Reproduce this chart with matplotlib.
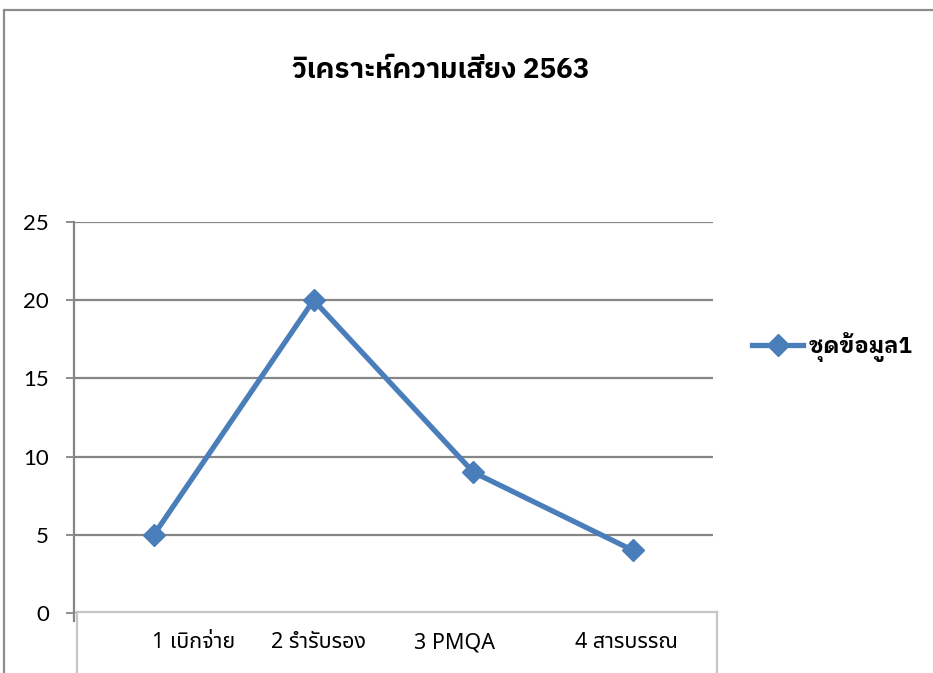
import matplotlib
matplotlib.use("Agg")
import matplotlib.pyplot as plt
from matplotlib.lines import Line2D
from matplotlib.patches import Rectangle

categories = ["1 เบิกจ่าย", "2 รำรับรอง", "3 PMQA", "4 สารบรรณ"]
values = [5, 20, 9, 4]
series_name = "ชุดข้อมูล1"
title = "วิเคราะห์ความเสี่ยง 2563"
yticks = [0, 5, 10, 15, 20, 25]
# label positions as they sit in the original (not under the points)
label_pos = [0.187, 0.383, 0.596, 0.864]

blue = "#4a7ebb"
grid_c = "#868686"
light = "#c6c6c6"

fig = plt.figure(figsize=(9.33, 6.73), dpi=100)
# outer chart frame
fig.patches.append(Rectangle((4 / 933, -0.1), 1.2, (673 - 10) / 673 + 0.1,
                             transform=fig.transFigure, fill=False,
                             edgecolor="#8c8c8c", linewidth=1.6))

ax = fig.add_axes([74 / 933, 60 / 673, 639 / 933, 391 / 673])
x = range(len(values))
ax.plot(x, values, color=blue, linewidth=3.8, marker="D", markersize=11,
        markerfacecolor=blue, markeredgecolor=blue, label=series_name)
ax.set_xlim(-0.5, len(values) - 0.5)
ax.set_ylim(0, 25)
ax.set_yticks(yticks)
ax.set_yticklabels([str(v) for v in yticks], family="Lato", fontsize=16)
ax.set_xticks([])
ax.tick_params(axis="y", length=6, width=1.3, color=grid_c, pad=12)
ax.yaxis.grid(True, color=grid_c, linewidth=1.6)
ax.set_axisbelow(True)
for s in ["top", "right", "bottom", "left"]:
    ax.spines[s].set_visible(False)

# left axis line, running a little below zero
ax.add_line(Line2D([0, 0], [-0.02, 1], transform=ax.transAxes, color=grid_c,
                   linewidth=1.6, clip_on=False))
# light box under the plot holding the category labels
box_kw = dict(transform=ax.transAxes, color=light, linewidth=1.6, clip_on=False)
ax.add_line(Line2D([0.005, 1.006], [0.002, 0.002], **box_kw))
ax.add_line(Line2D([0.005, 0.005], [0.002, -0.3], **box_kw))
ax.add_line(Line2D([1.006, 1.006], [0.002, -0.3], **box_kw))

for lab, px in zip(categories, label_pos):
    ax.text(px, -0.076, lab, transform=ax.transAxes, ha="center", va="center",
            family=["Noto Sans Thai", "DejaVu Sans"], fontsize=15.5)

fig.text(441 / 933, 1 - 70 / 673, title, ha="center", va="center",
         family=["IBM Plex Sans Thai", "DejaVu Sans"], fontsize=20, fontweight="bold")

leg = ax.legend(loc="center left", bbox_to_anchor=(1.03, 0.68), frameon=False,
                handlelength=2.3, handletextpad=0.25,
                prop=dict(family=["IBM Plex Sans Thai Looped", "DejaVu Sans"],
                          size=16, weight="bold"))

fig.savefig("out.png")
